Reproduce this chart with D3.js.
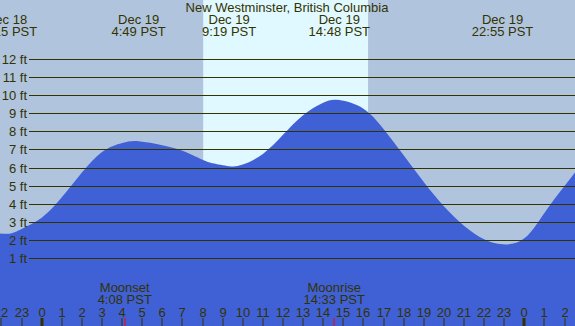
<!DOCTYPE html>
<html>
<head>
<meta charset="utf-8">
<script src="https://d3js.org/d3.v7.min.js"></script>
<style>
  body { margin: 0; }
  svg text { font-family: "Liberation Sans", Arial, sans-serif; font-size: 13px; fill: #333300; }
</style>
</head>
<body>
<svg width="575" height="326"></svg>
<script>
// hours since Dec 19 00:00 PST, heights in feet
var tideHours   = [-3, -1.75, -1, 0, 1, 2, 3, 4, 4.82, 6, 7, 8, 8.5, 9.32, 10, 11, 12, 13, 14, 14.8, 16, 17, 18, 19, 20, 21, 22, 22.92, 24, 25, 26, 27];
var tideHeights = [2.5, 2.35, 2.62, 3.24, 4.36, 5.72, 6.86, 7.35, 7.45, 7.23, 6.92, 6.42, 6.23, 6.07, 6.16, 6.75, 7.8, 8.88, 9.57, 9.71, 9.24, 8.12, 6.68, 5.2, 3.87, 2.8, 2.05, 1.77, 2.1, 3.5, 4.98, 6.4];

// high / low tide labels
var eventHours = [-1.75, 4.82, 9.32, 14.8, 22.92];
var eventDays  = ["Dec 18", "Dec 19", "Dec 19", "Dec 19", "Dec 19"];
var eventTimes = ["22:15 PST", "4:49 PST", "9:19 PST", "14:48 PST", "22:55 PST"];

// moon events
var moonHours  = [4.13, 14.55];
var moonNames  = ["Moonset", "Moonrise"];
var moonTimes  = ["4:08 PST", "14:33 PST"];

// daylight
var sunrise = 8.03, sunset = 16.23;

var feetTicks = d3.range(1, 13);
var hourTicks = d3.range(-2, 27);

var svg = d3.select("svg"),
    W = +svg.attr("width"), H = +svg.attr("height");

var x = d3.scaleLinear().domain([0, 24]).range([41.7, 524.3]);
var y = d3.scaleLinear().domain([0, 12]).range([276.5, 58.5]);

svg.append("rect").attr("width", W).attr("height", H).attr("fill", "#b0c4de");
svg.append("rect")
    .attr("x", x(sunrise)).attr("y", 0)
    .attr("width", x(sunset) - x(sunrise)).attr("height", H)
    .attr("fill", "#e0f8ff");

var tide = tideHours.map(function(h, i) { return [h, tideHeights[i]]; });
var area = d3.area()
    .x(function(d) { return x(d[0]); })
    .y0(H)
    .y1(function(d) { return y(d[1]); })
    .curve(d3.curveNatural);
svg.append("path").datum(tide).attr("d", area).attr("fill", "#4060d6");

// grid lines + ft labels
var grid = svg.append("g");
feetTicks.forEach(function(f) {
  var yy = Math.round(y(f)) + 0.5;
  grid.append("line").attr("x1", 29).attr("x2", W).attr("y1", yy).attr("y2", yy)
      .attr("stroke", "#333300").attr("stroke-width", 1);
  grid.append("text").attr("x", 27).attr("y", yy + 4.5)
      .attr("text-anchor", "end").text(f + " ft");
});

// title
svg.append("text").attr("x", 287).attr("y", 11.5).attr("text-anchor", "middle")
    .text("New Westminster, British Columbia");

// tide labels
eventHours.forEach(function(h, i) {
  var g = svg.append("g").attr("text-anchor", "middle");
  g.append("text").attr("x", x(h)).attr("y", 23.5).text(eventDays[i]);
  g.append("text").attr("x", x(h)).attr("y", 35.5).text(eventTimes[i]);
});

// moon labels
moonHours.forEach(function(h, i) {
  var g = svg.append("g").attr("text-anchor", "middle");
  g.append("text").attr("x", x(h)).attr("y", 292).text(moonNames[i]);
  g.append("text").attr("x", x(h)).attr("y", 303.5).text(moonTimes[i]);
});

// hour axis
hourTicks.forEach(function(h) {
  var xx = Math.round(x(h));
  var midnight = ((h % 24) + 24) % 24 === 0;
  svg.append("text").attr("x", xx).attr("y", 316.5).attr("text-anchor", "middle")
      .text(((h % 24) + 24) % 24);
  svg.append("rect").attr("x", midnight ? xx - 1.5 : xx - 0.5).attr("y", 318)
      .attr("width", midnight ? 3 : 1).attr("height", 8).attr("fill", "#333300");
});
moonHours.forEach(function(h) {
  svg.append("rect").attr("x", Math.round(x(h)) - 0.5).attr("y", 318)
      .attr("width", 1).attr("height", 8).attr("fill", "#ff0000");
});
</script>
</body>
</html>
